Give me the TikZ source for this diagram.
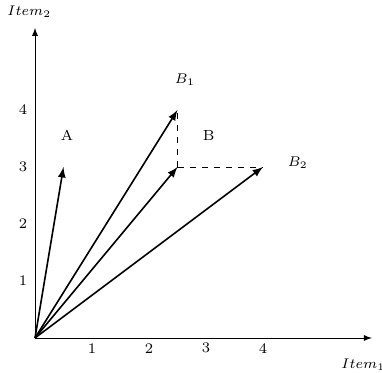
\documentclass[tikz,border=0pt]{standalone}
\usepackage{amsmath}
\usepackage{amssymb}
\usepackage{tikz}
\usetikzlibrary{positioning}

\begin{document}
\begin{tikzpicture}[>=latex, font=\fontsize{7.3}{9}\selectfont]
    \useasboundingbox (-0.614,-0.614) rectangle (6.088,5.93);
    \coordinate (o) at (0, 0);
    \coordinate (xend) at (5.91, 0);
    \coordinate (yend) at (0, 5.44);
    
    \coordinate (a) at (0.5, 3);
    \coordinate (b) at (2.5, 3);
    \coordinate (b1) at (2.5, 4);
    \coordinate (b2) at (4, 3);
    
    \draw[->] (o) -- (xend);
    \draw[->] (o) -- (yend);
    \node (item1) at (5.76, -0.47) {$Item_1$};
    \node (item2) at (-0.1, 5.72) {$Item_2$};
    
    \foreach \i in {1,...,4} {
        \node (x\i) at (\i, -0.18) {\i};
        \node (y\i) at (-0.21, \i) {\i};
    }
    
    \draw[->, thick] (o) -- (a);
    \draw[->, thick] (o) -- (b);
    \draw[->, thick] (o) -- (b1);
    \draw[->, thick] (o) -- (b2);
    \draw[dashed] (b) -- (b1);
    \draw[dashed] (b) -- (b2);
    
    \node (la) at (0.56, 3.56) {A};
    \node (lb) at (3.05, 3.56) {B};
    \node (lb1) at (2.63, 4.53) {$B_1$};
    \node (lb2) at (4.61, 3.07) {$B_2$};
\end{tikzpicture}
\end{document}
